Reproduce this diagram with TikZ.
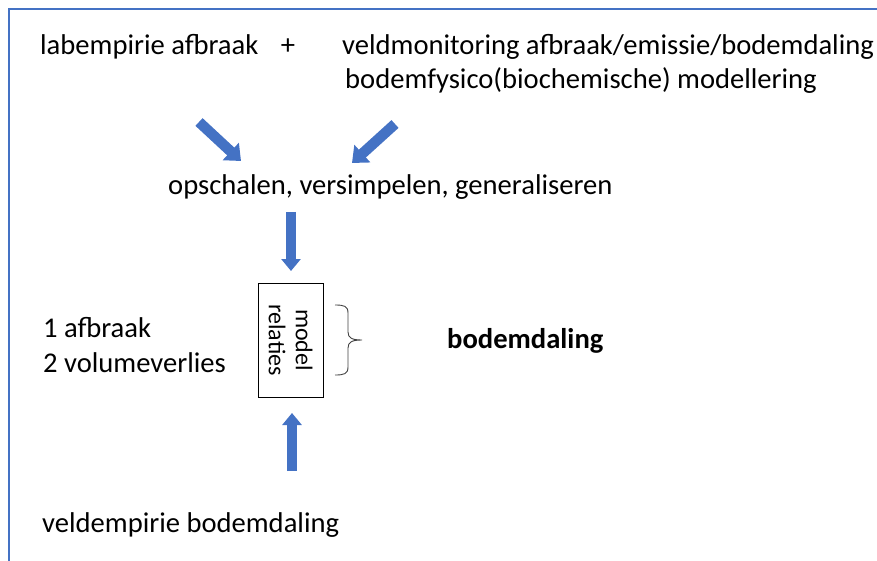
\documentclass[tikz,border=0pt]{standalone}
\usepackage{fontspec}
\setmainfont{Carlito}
\usetikzlibrary{arrows.meta}
\definecolor{frameblue}{HTML}{4472C4}
\definecolor{arrowblue}{HTML}{4472C4}
\tikzset{
  txt/.style={anchor=base west, inner sep=0pt, font=\fontsize{28.6}{34}\selectfont},
  blockarrow/.style={draw=arrowblue, line width=10.5pt, -{Triangle[width=23pt,length=14pt]}},
  vblockarrow/.style={draw=arrowblue, line width=10pt, -{Triangle[width=19pt,length=12pt]}},
  modelbox/.style={draw=black, line width=1pt, rotate=-90, minimum width=114pt, minimum height=65pt,
    align=center, inner sep=0pt, font=\fontsize{24}{27}\selectfont},
}
\begin{document}
\begin{tikzpicture}[x=1pt,y=-1pt]
\useasboundingbox (0,0) rectangle (877,561);
\draw[frameblue, line width=1.3pt] (9,561) -- (9,9) -- (877,9);

\node[txt] (lab) at (40,55) {labempirie afbraak};
\node[txt, anchor=base] (plus) at (288,55) {+};
\node[txt] (veld) at (342,55) {veldmonitoring afbraak/emissie/bodemdaling};
\node[txt] (fys) at (345,89) {bodemfysico(biochemische) modellering};
\node[txt] (ops) at (168,195) {opschalen, versimpelen, generaliseren};
\node[txt] (een) at (43,337) {1 afbraak};
\node[txt] (twee) at (43,372) {2 volumeverlies};
\node[txt, font=\fontsize{28.6}{34}\selectfont\bfseries] (bd) at (447,348) {bodemdaling};
\node[txt] (vbd) at (42,532) {veldempirie bodemdaling};

\node[modelbox] (box) at (290.5,340) {model\\relaties};

\coordinate (a1s) at (199,122);
\coordinate (a1e) at (241,161);
\coordinate (a2s) at (395,124);
\coordinate (a2e) at (352,163);
\coordinate (dns) at (291,212);
\coordinate (dne) at (291,271);
\coordinate (ups) at (292,471);
\coordinate (upe) at (292,413);
\draw[blockarrow] (a1s) -- (a1e);
\draw[blockarrow] (a2s) -- (a2e);
\draw[vblockarrow] (dns) -- (dne);
\draw[vblockarrow] (ups) -- (upe);

\draw[black!75, line width=0.9pt]
  (335,305) .. controls (344,305) and (348,306) .. (348,313) -- (348,332)
  .. controls (348,338) and (352,340) .. (362,340)
  .. controls (352,340) and (348,342) .. (348,348) -- (348,367)
  .. controls (348,374) and (344,375) .. (335,375);
\end{tikzpicture}
\end{document}
